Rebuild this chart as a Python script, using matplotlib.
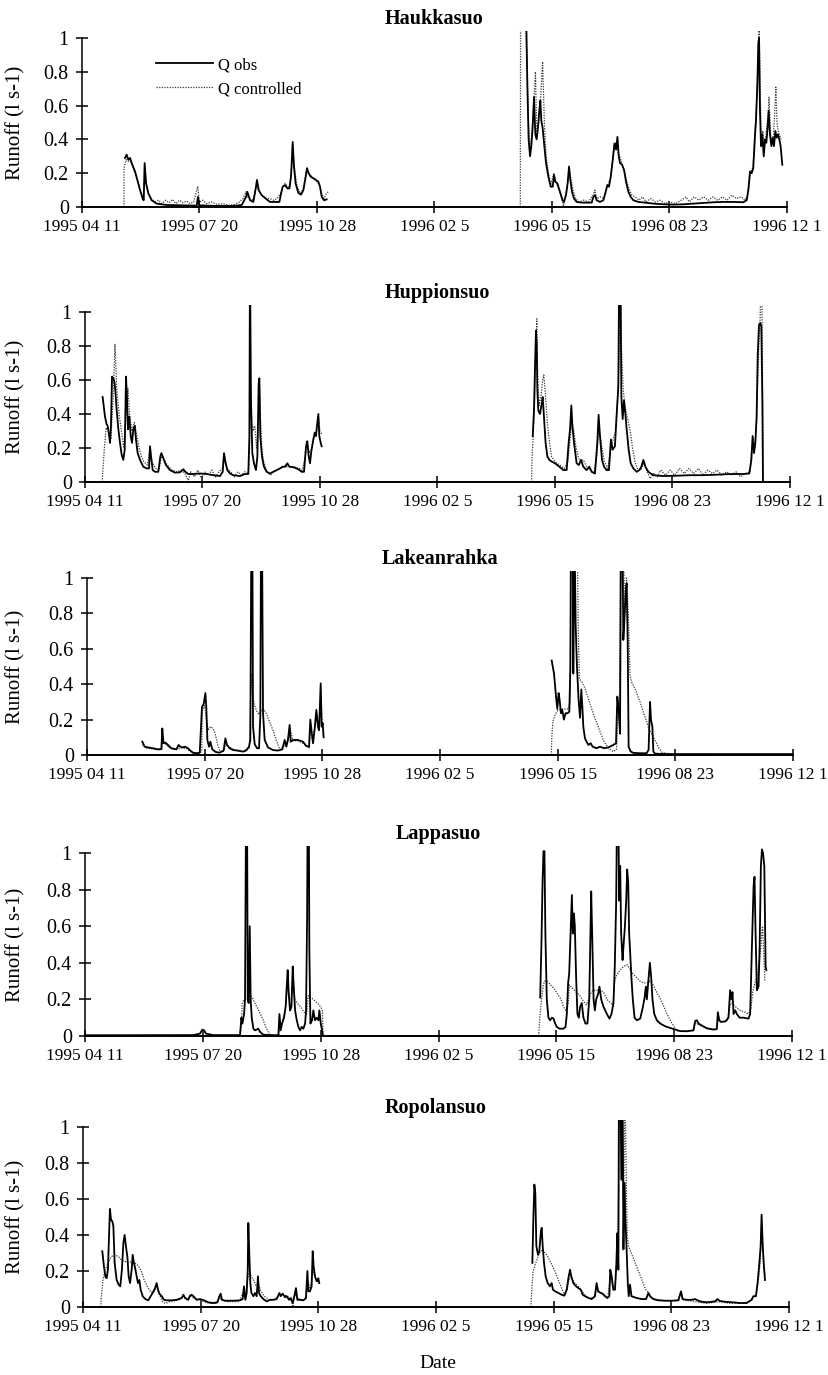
import numpy as np
import pandas as pd
import matplotlib
matplotlib.use("Agg")
import matplotlib.pyplot as plt

plt.rcParams['font.family'] = ['Liberation Serif', 'DejaVu Serif']

START = pd.Timestamp('1995-04-11')
END = pd.Timestamp('1996-12-01')

tick_dates = ['1995-04-11', '1995-07-20', '1995-10-28', '1996-02-05',
              '1996-05-15', '1996-08-23', '1996-12-01']
tick_labels = ['1995 04 11', '1995 07 20', '1995 10 28', '1996 02 5',
               '1996 05 15', '1996 08 23', '1996 12 1']
y_ticks = [0, 0.2, 0.4, 0.6, 0.8, 1]
y_tick_labels = ['0', '0.2', '0.4', '0.6', '0.8', '1']

site_names = ['Haukkasuo', 'Huppionsuo', 'Lakeanrahka', 'Lappasuo', 'Ropolansuo']

# (day since 1995-04-11, runoff l/s)
# ---------------- Haukkasuo ----------------
hauk_obs_1995 = [(36.6, 0.29), (38.0, 0.31), (39.4, 0.28), (40.9, 0.29), (42.3, 0.26), (45.1, 0.21),
    (47.1, 0.16), (49.4, 0.10), (51.6, 0.05), (52.5, 0.04), (53.3, 0.26), (54.5, 0.14), (56.5, 0.08),
    (59.3, 0.04), (63.5, 0.02), (72, 0.012), (83.4, 0.01), (97.6, 0.008), (98.7, 0.06), (99.9, 0.01),
    (114.6, 0.006), (128.8, 0.006), (136, 0.012), (139.6, 0.06), (140.7, 0.09), (143, 0.04),
    (145.8, 0.03), (148.1, 0.12), (148.9, 0.16), (150.4, 0.10), (152.9, 0.07), (157.2, 0.045),
    (160, 0.03), (168, 0.03), (169.4, 0.08), (170.8, 0.12), (172.8, 0.13), (174.8, 0.11), (176.5, 0.11),
    (177.9, 0.18), (179.3, 0.385), (180.4, 0.24), (181.8, 0.14), (184.1, 0.083), (186.4, 0.073),
    (188.4, 0.10), (190.4, 0.18), (191.5, 0.23), (192.9, 0.20), (194.6, 0.18), (196.9, 0.17),
    (199.1, 0.16), (201.1, 0.15), (202.6, 0.12), (204, 0.06), (206, 0.04), (208.2, 0.045)]
hauk_obs_1996 = [(377.6, 1.3), (379.0, 0.73), (380.1, 0.40), (381.3, 0.30), (382.4, 0.36), (383.5, 0.47),
    (384.7, 0.65), (385.8, 0.43), (386.9, 0.40), (388.1, 0.47), (389.2, 0.57), (390.1, 0.63), (390.9, 0.51),
    (392, 0.47), (393.2, 0.38), (394.9, 0.26), (396.9, 0.18), (398.9, 0.12), (400.6, 0.12), (401.7, 0.19),
    (402.8, 0.15), (404.5, 0.14), (406.8, 0.09), (409, 0.04), (410.2, 0.03), (411.9, 0.07), (413.3, 0.14),
    (414.5, 0.24), (415.6, 0.16), (417, 0.09), (418.7, 0.05), (421, 0.03), (425.3, 0.026), (433.8, 0.026),
    (435.2, 0.06), (436.6, 0.07), (438, 0.04), (440.8, 0.03), (443.7, 0.04), (445.7, 0.09), (447.1, 0.13),
    (448.5, 0.12), (450, 0.18), (451.7, 0.28), (453.1, 0.375), (454.5, 0.34), (455.7, 0.415), (456.8, 0.30),
    (457.9, 0.26), (459.6, 0.25), (461.3, 0.22), (463, 0.15), (465, 0.09), (467, 0.06), (469.2, 0.04),
    (473.5, 0.03), (479.1, 0.026), (486.2, 0.02), (494.7, 0.016), (503.3, 0.014), (511.8, 0.016),
    (520.3, 0.02), (528.8, 0.024), (537.3, 0.028), (545.8, 0.03), (554.3, 0.03), (562.8, 0.028),
    (565.7, 0.04), (567.1, 0.10), (568.5, 0.21), (569.9, 0.20), (571.3, 0.23), (572.8, 0.43), (573.6, 0.51),
    (574.8, 0.73), (575.6, 0.97), (576.2, 1.0), (577, 0.57), (577.9, 0.36), (579, 0.43), (580.2, 0.30),
    (581.3, 0.40), (582.4, 0.38), (583.5, 0.47), (584.4, 0.57), (585.5, 0.43), (586.7, 0.36), (587.8, 0.41),
    (588.9, 0.36), (590.1, 0.45), (591.2, 0.41), (592.3, 0.43), (593.5, 0.40), (594.6, 0.36), (596, 0.25)]
hauk_ctl_1995 = [(35.7, 0), (35.8, 0.23), (37.5, 0.28), (39.5, 0.27), (41, 0.28), (43, 0.24), (45.5, 0.2),
    (48, 0.14), (50, 0.09), (52.5, 0.05), (53.5, 0.22), (55, 0.13), (57, 0.07), (59, 0.05), (62, 0.03),
    (65, 0.04), (68, 0.02), (71, 0.04), (74, 0.025), (77, 0.045), (80, 0.02), (83, 0.04), (86, 0.025),
    (89, 0.035), (92, 0.02), (95, 0.03), (98.5, 0.12), (100, 0.03), (103, 0.04), (106, 0.02), (110, 0.03),
    (115, 0.015), (120, 0.02), (125, 0.01), (130, 0.015), (134, 0.03), (137, 0.05), (139.5, 0.09),
    (141, 0.06), (143, 0.05), (146, 0.04), (148.5, 0.14), (150, 0.10), (153, 0.07), (157, 0.05), (160, 0.05),
    (163, 0.04), (166, 0.05), (169, 0.08), (171, 0.12), (173, 0.14), (175, 0.12), (177, 0.12), (178.5, 0.25),
    (179.5, 0.33), (181, 0.22), (183, 0.12), (186, 0.08), (188.5, 0.11), (190.5, 0.2), (192, 0.22),
    (194, 0.19), (197, 0.17), (200, 0.15), (202, 0.13), (204, 0.08), (206, 0.05), (208, 0.08), (209.5, 0.09)]
hauk_ctl_1996 = [(373, 0), (373.3, 1.3), (377, 1.3), (378.5, 0.9), (380, 0.5), (381.5, 0.32), (383, 0.45),
    (384.5, 0.6), (385.9, 0.8), (387, 0.45), (388.5, 0.5), (390, 0.6), (392, 0.86), (393.5, 0.5), (395, 0.3),
    (397, 0.2), (399, 0.13), (401.5, 0.2), (403, 0.16), (405, 0.12), (407, 0.08), (409.4, 0.02), (409.7, 0.0),
    (411, 0.05), (413, 0.12), (414.8, 0.22), (416, 0.17), (418, 0.1), (420, 0.05), (423, 0.03), (427, 0.04),
    (431, 0.03), (435, 0.07), (436.5, 0.1), (438, 0.05), (441, 0.06), (444, 0.05), (446, 0.1), (448, 0.14),
    (450, 0.17), (452, 0.3), (454, 0.38), (456, 0.33), (457.5, 0.3), (460, 0.25), (462, 0.2), (464, 0.14),
    (466, 0.1), (468, 0.07), (471, 0.06), (474, 0.04), (477, 0.06), (480, 0.03), (484, 0.05), (488, 0.03),
    (492, 0.04), (496, 0.02), (500, 0.03), (505, 0.02), (510, 0.04), (514, 0.06), (517, 0.03), (521, 0.06),
    (525, 0.04), (529, 0.06), (533, 0.04), (537, 0.06), (541, 0.04), (545, 0.06), (549, 0.04), (553, 0.07),
    (557, 0.05), (561, 0.06), (564, 0.04), (566, 0.06), (567.5, 0.12), (569, 0.2), (571, 0.24), (572.5, 0.4),
    (574, 0.6), (575.5, 0.9), (576.3, 1.06), (577.2, 0.7), (578, 0.4), (579.5, 0.45), (580.5, 0.35),
    (582, 0.42), (584, 0.55), (584.7, 0.65), (585.8, 0.45), (587, 0.38), (588.5, 0.42), (589.5, 0.55),
    (590.5, 0.71), (591.5, 0.5), (592.5, 0.45), (594, 0.42), (595, 0.4)]

# ---------------- Huppionsuo ----------------
hupp_obs_1995 = [(15.0, 0.50), (17.0, 0.385), (18.4, 0.34), (19.3, 0.33), (20.4, 0.28), (21.3, 0.23),
    (22.1, 0.33), (23, 0.62), (24.1, 0.61), (25, 0.59), (25.8, 0.54), (27, 0.42), (28.4, 0.31), (29.8, 0.23),
    (31.2, 0.16), (32.6, 0.13), (33.8, 0.19), (34.9, 0.62), (35.7, 0.50), (36.6, 0.31), (37.7, 0.385),
    (38.9, 0.27), (40, 0.23), (41.1, 0.31), (42.3, 0.33), (43.4, 0.25), (44.8, 0.17), (46.8, 0.13),
    (49.6, 0.09), (52.5, 0.08), (54.5, 0.08), (55.3, 0.21), (56.2, 0.15), (57.6, 0.07), (59.6, 0.06),
    (62.4, 0.06), (64.1, 0.15), (65, 0.17), (66.7, 0.14), (68.9, 0.10), (72.3, 0.07), (76.6, 0.055),
    (80.9, 0.057), (83.7, 0.075), (85.4, 0.06), (87.9, 0.047), (92.2, 0.047), (97.9, 0.05), (103.5, 0.047),
    (109.2, 0.04), (114.9, 0.035), (117.2, 0.06), (118.3, 0.17), (119.4, 0.12), (121.1, 0.07), (123.4, 0.05),
    (126.2, 0.04), (131.9, 0.035), (136.2, 0.047), (139, 0.047), (139.9, 0.27), (140.4, 1.3), (141.3, 0.46),
    (142.4, 0.17), (143.8, 0.11), (145.5, 0.07), (146.7, 0.15), (147.8, 0.58), (148.4, 0.61), (149.2, 0.27),
    (150.6, 0.15), (152.3, 0.09), (154.6, 0.06), (157.4, 0.05), (160.3, 0.06), (163.1, 0.07), (166, 0.08),
    (168.2, 0.09), (170.2, 0.09), (172.2, 0.11), (173.9, 0.09), (177.3, 0.087), (181.6, 0.075),
    (184.4, 0.06), (186.4, 0.06), (188.1, 0.21), (189.2, 0.24), (190.4, 0.15), (191.5, 0.11), (192.6, 0.18),
    (194.3, 0.25), (195.5, 0.29), (196.6, 0.27), (197.4, 0.33), (198.6, 0.40), (199.4, 0.27), (200.6, 0.23),
    (201.4, 0.21)]
hupp_obs_1996 = [(381, 0.27), (382.1, 0.42), (383, 0.68), (383.8, 0.89), (384.4, 0.82), (385, 0.54),
    (385.8, 0.42), (387.2, 0.40), (388.7, 0.46), (389.5, 0.50), (390.6, 0.385), (392, 0.23), (393.5, 0.15),
    (395.2, 0.13), (397.2, 0.12), (400, 0.11), (403.7, 0.09), (407.1, 0.07), (409.9, 0.07), (411.6, 0.23),
    (412.8, 0.31), (413.9, 0.45), (414.8, 0.33), (416.2, 0.23), (418.4, 0.11), (420.4, 0.10), (422.1, 0.13),
    (424.1, 0.09), (426.9, 0.07), (429.2, 0.09), (431.2, 0.06), (434, 0.05), (436, 0.23), (437.1, 0.395),
    (438.3, 0.27), (440, 0.13), (441.7, 0.09), (443.9, 0.07), (445.9, 0.07), (447.6, 0.25), (449, 0.19),
    (451, 0.21), (452.5, 0.40), (453.9, 0.56), (454.7, 1.3), (455.6, 1.3), (456.5, 0.50), (457.6, 0.37),
    (458.7, 0.48), (459.9, 0.40), (461, 0.31), (462.7, 0.19), (464.4, 0.11), (466.7, 0.08), (469.5, 0.06),
    (471.8, 0.07), (473.5, 0.09), (475.2, 0.13), (476.9, 0.09), (479.4, 0.06), (483.7, 0.04), (492.2, 0.035),
    (503.5, 0.037), (514.9, 0.04), (526.2, 0.04), (537.6, 0.043), (548.9, 0.047), (560.3, 0.047),
    (565.4, 0.05), (567.1, 0.13), (568.2, 0.27), (569.4, 0.17), (570.5, 0.23), (571.6, 0.385), (572.5, 0.74),
    (573.6, 0.925), (574.8, 0.935), (575.6, 0.915), (576.5, 0.46), (577, 0.0)]
hupp_ctl_1995 = [(14.6, 0), (16.5, 0.2), (18, 0.32), (20, 0.3), (22, 0.25), (24, 0.5), (25.5, 0.81),
    (27, 0.55), (29, 0.4), (31, 0.3), (33, 0.2), (35, 0.4), (36.5, 0.55), (38, 0.4), (40, 0.3), (42, 0.35),
    (44, 0.28), (46, 0.2), (48, 0.15), (50, 0.12), (53, 0.1), (55.5, 0.2), (57, 0.12), (60, 0.08), (63, 0.07),
    (65, 0.15), (67, 0.13), (70, 0.1), (74, 0.07), (78, 0.06), (82, 0.07), (85, 0.05), (88, 0.01), (90, 0.06),
    (93, 0.03), (96, 0.07), (99, 0.02), (102, 0.06), (105, 0.04), (108, 0.07), (111, 0.03), (114, 0.06),
    (117, 0.08), (118.5, 0.16), (121, 0.08), (124, 0.06), (127, 0.03), (130, 0.06), (133, 0.04), (136, 0.06),
    (139, 0.05), (140, 0.2), (141, 0.5), (142, 0.35), (143, 0.3), (144.5, 0.33), (146, 0.2), (147.5, 0.3),
    (148.5, 0.55), (149.5, 0.35), (150.5, 0.2), (152, 0.12), (154, 0.08), (156, 0.05), (158, 0.04),
    (160, 0.06), (163, 0.07), (166, 0.08), (170, 0.09), (174, 0.09), (178, 0.09), (182, 0.08), (185, 0.07),
    (187.5, 0.15), (189, 0.23), (191, 0.17), (193, 0.2), (195, 0.27), (197, 0.3), (198.7, 0.38), (200, 0.3),
    (201.5, 0.28)]
hupp_ctl_1996 = [(380, 0), (380.5, 0.15), (381.5, 0.28), (382.5, 0.45), (383.5, 0.75), (384.5, 0.96),
    (385.3, 0.6), (386.5, 0.45), (388, 0.5), (389.5, 0.6), (390.5, 0.63), (392, 0.5), (393.5, 0.35),
    (395, 0.25), (397, 0.15), (400, 0.12), (404, 0.1), (408, 0.08), (411, 0.12), (413, 0.27), (414.5, 0.35),
    (416, 0.3), (418, 0.2), (420, 0.14), (422, 0.12), (424, 0.13), (427, 0.09), (430, 0.07), (433, 0.05),
    (435.5, 0.15), (437, 0.3), (438.5, 0.27), (440, 0.2), (442, 0.12), (445, 0.08), (447.5, 0.2),
    (449.5, 0.25), (451.5, 0.3), (453, 0.45), (454.5, 0.7), (455.5, 1.3), (456.5, 0.8), (458, 0.55),
    (459.5, 0.45), (461, 0.4), (462.5, 0.35), (464, 0.3), (466, 0.2), (468, 0.12), (470, 0.08), (473, 0.07),
    (475.5, 0.11), (478, 0.07), (481, 0.02), (484, 0.05), (487, 0.03), (490, 0.07), (494, 0.04), (498, 0.07),
    (502, 0.04), (506, 0.08), (510, 0.05), (514, 0.08), (518, 0.05), (522, 0.08), (526, 0.04), (530, 0.07),
    (534, 0.05), (538, 0.07), (542, 0.04), (546, 0.06), (550, 0.04), (554, 0.06), (558, 0.03), (562, 0.05),
    (566, 0.06), (567.5, 0.2), (568.5, 0.25), (570, 0.2), (571.5, 0.35), (572.5, 0.6), (573.5, 0.8),
    (574.5, 0.95), (575.8, 1.3), (576.5, 0.8), (577, 0.2), (577.1, 0)]

# ---------------- Lakeanrahka ----------------
lake_obs_1995 = [(47, 0.075), (49, 0.047), (51.8, 0.043), (56.1, 0.038), (60.3, 0.032), (63.2, 0.034),
    (64, 0.15), (64.9, 0.066), (66.6, 0.07), (68.8, 0.057), (71.7, 0.038), (75.9, 0.032), (77.9, 0.057),
    (79.3, 0.047), (81, 0.043), (83.3, 0.047), (85.8, 0.038), (87.8, 0.025), (90.1, 0.013), (93.5, 0.01),
    (95.8, 0.013), (96.9, 0.16), (97.7, 0.27), (99.2, 0.29), (100.6, 0.35), (101.4, 0.27), (102.3, 0.085),
    (103.7, 0.047), (104.8, 0.075), (106.5, 0.032), (109.3, 0.017), (112.7, 0.013), (116.1, 0.025),
    (117.6, 0.094), (119, 0.057), (121.2, 0.038), (124.1, 0.028), (128.3, 0.025), (132.6, 0.019),
    (135.4, 0.028), (137.7, 0.047), (138.8, 0.085), (139.7, 1.3), (140.5, 1.3), (141.1, 0.16), (142.5, 0.062),
    (144.5, 0.038), (146.2, 0.038), (147.3, 0.22), (147.9, 1.3), (148.7, 1.3), (149.6, 0.236), (151, 0.085),
    (153.8, 0.043), (158.1, 0.028), (162.3, 0.025), (166, 0.032), (168, 0.085), (169.4, 0.047), (170.8, 0.085),
    (172.2, 0.17), (173.1, 0.075), (175.1, 0.085), (179.3, 0.085), (183.6, 0.075), (186.4, 0.05),
    (188.7, 0.047), (189.8, 0.2), (190.9, 0.13), (192.1, 0.066), (193.5, 0.15), (194.9, 0.255), (196.3, 0.16),
    (197.2, 0.14), (198.6, 0.405), (199.4, 0.16), (200.3, 0.18), (201.1, 0.1)]
lake_obs_1996 = [(394.9, 0.534), (396.9, 0.46), (398.6, 0.33), (399.7, 0.26), (400.8, 0.35), (401.7, 0.31),
    (402.8, 0.236), (403.9, 0.255), (405.3, 0.2), (406.7, 0.236), (408.5, 0.236), (409.9, 0.245),
    (410.8, 0.5), (411.3, 1.3), (412.7, 1.3), (413.3, 0.46), (414.2, 1.3), (415.3, 0.73), (416.4, 0.5),
    (417.8, 0.31), (419, 0.21), (420.1, 0.37), (421, 0.27), (421.8, 0.16), (423.2, 0.094), (424.6, 0.075),
    (426.1, 0.057), (428.1, 0.066), (429.7, 0.047), (433.1, 0.038), (436, 0.047), (439.4, 0.038),
    (443.1, 0.043), (447.3, 0.057), (449.6, 0.066), (450.7, 0.33), (451.9, 0.255), (453, 0.12), (453.8, 1.3),
    (455, 1.3), (455.8, 0.65), (456.7, 0.76), (457.8, 0.915), (458.6, 0.97), (459.5, 0.65), (460.3, 0.047),
    (462, 0.02), (464.3, 0.012), (469.9, 0.01), (475.6, 0.01), (477.3, 0.03), (478.5, 0.3), (479.3, 0.2),
    (480.5, 0.16), (481.3, 0.02), (482.7, 0.008), (487, 0.006), (498.3, 0.005), (521, 0.005),
    (549.3, 0.005), (577.6, 0.005), (600, 0.005)]
lake_ctl_1995 = [(47, 0.06), (50, 0.04), (55, 0.035), (60, 0.03), (63.5, 0.03), (64.3, 0.12), (65.5, 0.07),
    (70, 0.04), (75, 0.03), (80, 0.04), (85, 0.035), (90, 0.01), (95, 0.01), (97.5, 0.02), (98, 0.25),
    (100, 0.28), (101.5, 0.2), (103, 0.14), (105, 0.16), (107, 0.15), (109, 0.12), (111, 0.06), (113, 0.02),
    (116, 0.02), (118, 0.06), (120, 0.05), (125, 0.03), (130, 0.02), (135, 0.02), (138, 0.04), (139.6, 0.46),
    (140.5, 0.35), (142, 0.29), (144, 0.25), (146, 0.23), (148, 0.25), (150, 0.26), (152, 0.24), (155, 0.19),
    (158, 0.14), (161, 0.08), (164, 0.03), (167, 0.05), (170, 0.07), (172.5, 0.15), (175, 0.08), (180, 0.08),
    (185, 0.06), (189, 0.04), (190, 0.18), (192, 0.07), (195, 0.22), (197, 0.14), (198.8, 0.35), (200, 0.17),
    (201.2, 0.1)]
lake_ctl_1996 = [(394.6, 0), (395, 0.1), (396, 0.19), (398, 0.23), (400, 0.25), (403, 0.26), (406, 0.26),
    (409, 0.26), (410.5, 0.3), (411.5, 1.3), (413, 1.3), (414.5, 1.3), (416.5, 1.3), (417.5, 0.7),
    (418.5, 0.43), (420, 0.42), (423, 0.38), (427, 0.3), (431, 0.22), (435, 0.15), (439, 0.08), (443, 0.04),
    (447, 0.02), (450, 0.03), (451.5, 0.3), (452.5, 0.2), (453.5, 1.3), (455.5, 1.3), (457, 0.8), (458.5, 1.0),
    (460, 0.8), (461.5, 0.45), (463, 0.41), (466, 0.37), (470, 0.3), (474, 0.22), (478, 0.14), (480, 0.12),
    (483, 0.08), (486, 0.04), (488.5, 0.015), (495, 0.006), (600, 0.006)]

# ---------------- Lappasuo ----------------
lapp_obs_1995 = [(0, 0.004), (92, 0.005), (97.6, 0.013), (99.6, 0.035), (101, 0.031), (102.7, 0.013),
    (108.9, 0.005), (131.6, 0.005), (132.7, 0.10), (133.6, 0.068), (135, 0.12), (135.8, 0.2), (136.7, 1.3),
    (137.5, 1.3), (138.1, 0.2), (138.9, 0.18), (139.8, 0.6), (140.6, 0.2), (141.5, 0.10), (142.9, 0.04),
    (144.3, 0.031), (145.7, 0.035), (147.1, 0.04), (148.6, 0.022), (151.4, 0.007), (159.9, 0.004),
    (164.1, 0.004), (165, 0.12), (166.1, 0.031), (167.2, 0.068), (168.9, 0.10), (170.3, 0.16), (171.2, 0.27),
    (172, 0.36), (172.9, 0.23), (174, 0.14), (175.2, 0.16), (176.3, 0.38), (177.1, 0.27), (178.3, 0.14),
    (179.7, 0.086), (181.1, 0.05), (182.5, 0.031), (183.9, 0.05), (185.3, 0.04), (186.8, 0.068),
    (187.6, 0.14), (188.5, 0.65), (189, 1.3), (189.9, 1.3), (190.4, 0.47), (191.3, 0.068), (192.7, 0.086),
    (193.8, 0.14), (195.2, 0.086), (196.7, 0.10), (198.1, 0.086), (198.9, 0.14), (200.1, 0.068),
    (201.2, 0.031), (201.8, 0.005)]
lapp_obs_1996 = [(386.3, 0.21), (387.4, 0.52), (388.3, 0.84), (389.1, 1.01), (389.9, 1.01), (390.7, 0.56),
    (391.9, 0.2), (393.3, 0.10), (394.7, 0.086), (396.2, 0.10), (397.6, 0.095), (399, 0.068), (400.4, 0.05),
    (402.7, 0.04), (406.1, 0.04), (407.8, 0.05), (408.9, 0.12), (410, 0.29), (410.9, 0.34), (412.3, 0.6),
    (413.2, 0.77), (414, 0.56), (414.9, 0.67), (415.7, 0.6), (416.8, 0.32), (417.9, 0.12), (419.1, 0.10),
    (420.2, 0.16), (421.6, 0.18), (423, 0.10), (424.7, 0.068), (426.4, 0.068), (427.9, 0.2), (428.7, 0.47),
    (429.6, 0.79), (430.4, 0.56), (431.6, 0.2), (432.7, 0.14), (433.8, 0.2), (435.5, 0.23), (436.6, 0.27),
    (438.1, 0.2), (440, 0.16), (442.9, 0.12), (445.1, 0.095), (446.8, 0.12), (448.5, 0.18), (449.6, 0.38),
    (450.8, 0.74), (451.6, 1.3), (452.5, 1.3), (453.3, 0.74), (454.2, 0.93), (455, 0.56), (456.2, 0.415),
    (457, 0.49), (458.2, 0.6), (459.3, 0.74), (460.1, 0.91), (461, 0.84), (461.8, 0.56), (462.7, 0.45),
    (463.8, 0.31), (464.9, 0.2), (466.4, 0.10), (468.4, 0.086), (471.2, 0.095), (473.5, 0.16), (474.9, 0.21),
    (476, 0.27), (476.8, 0.2), (478.2, 0.31), (479.4, 0.40), (480.5, 0.32), (481.6, 0.2), (483.1, 0.12),
    (485.3, 0.086), (488.2, 0.068), (492.4, 0.053), (496.6, 0.044), (500.9, 0.035), (505.1, 0.027),
    (510.8, 0.026), (516.4, 0.031), (517.8, 0.082), (519.2, 0.086), (520.7, 0.068), (523.5, 0.057),
    (527.7, 0.042), (533.4, 0.035), (536.2, 0.038), (537.1, 0.13), (538.2, 0.086), (539.6, 0.077),
    (543.3, 0.079), (546.1, 0.10), (547.5, 0.25), (548.6, 0.2), (549.5, 0.24), (550.4, 0.12), (551.8, 0.14),
    (553.2, 0.12), (555.5, 0.10), (558.9, 0.10), (563.1, 0.095), (564.5, 0.12), (565.9, 0.47), (567.4, 0.82),
    (568.2, 0.87), (569.1, 0.56), (570.2, 0.25), (571.6, 0.27), (572.5, 0.47), (573.6, 0.93), (574.5, 1.02),
    (575.4, 1.0), (576.5, 0.93), (577.6, 0.38), (578.2, 0.36)]
lapp_ctl_1995 = [(0, 0.002), (131, 0.002), (132.5, 0.05), (133.5, 0.18), (135, 0.2), (137, 0.2),
    (138.5, 0.21), (140, 0.22), (142, 0.21), (145, 0.17), (148, 0.13), (151, 0.09), (154, 0.04),
    (156.5, 0.01), (160, 0.005), (164.5, 0.005), (165.5, 0.08), (168, 0.09), (170, 0.15), (172, 0.3),
    (173.5, 0.2), (175, 0.2), (176.5, 0.33), (178, 0.2), (180, 0.18), (183, 0.16), (186, 0.13), (188, 0.12),
    (189.5, 0.22), (191, 0.21), (194, 0.2), (197, 0.18), (200, 0.16), (201.5, 0.14), (202, 0.0)]
lapp_ctl_1996 = [(384.9, 0), (386, 0.1), (387.5, 0.2), (389, 0.28), (390, 0.3), (392, 0.3), (395, 0.28),
    (398, 0.26), (401, 0.23), (404, 0.2), (406, 0.16), (408, 0.14), (410, 0.17), (411, 0.28), (414, 0.26),
    (417, 0.24), (420, 0.22), (423, 0.19), (425.5, 0.17), (427.5, 0.2), (429, 0.23), (431, 0.25), (434, 0.25),
    (437, 0.25), (440, 0.24), (443, 0.2), (446, 0.18), (448, 0.17), (449.5, 0.3), (451, 0.33), (454, 0.36),
    (457, 0.38), (460, 0.39), (462, 0.37), (465, 0.34), (468, 0.32), (471, 0.3), (474, 0.29), (477, 0.29),
    (479, 0.3), (482, 0.28), (486, 0.23), (490, 0.18), (494, 0.12), (498, 0.07), (502, 0.03), (505, 0.025),
    (510, 0.026), (516, 0.03), (518, 0.07), (521, 0.06), (525, 0.05), (530, 0.04), (536, 0.035),
    (537.5, 0.11), (539, 0.08), (545, 0.08), (547.5, 0.17), (549, 0.18), (552, 0.16), (556, 0.14),
    (560, 0.13), (563, 0.12), (565, 0.15), (567, 0.25), (569, 0.3), (571, 0.34), (573, 0.45), (575, 0.6),
    (577, 0.3)]

# ---------------- Ropolansuo ----------------
ropo_obs_1995 = [(16.4, 0.31), (17.8, 0.226), (19, 0.17), (20.1, 0.16), (21.2, 0.21), (22.1, 0.39),
    (22.9, 0.545), (23.8, 0.485), (24.9, 0.476), (25.8, 0.45), (26.9, 0.245), (28.6, 0.15), (30.3, 0.124),
    (31.7, 0.115), (33.1, 0.21), (34.3, 0.355), (35.4, 0.4), (36.5, 0.337), (37.7, 0.28), (38.8, 0.17),
    (40, 0.133), (41.4, 0.21), (42.2, 0.29), (43.3, 0.245), (44.5, 0.21), (45.6, 0.17), (46.7, 0.133),
    (47.9, 0.15), (49, 0.096), (50.7, 0.06), (53, 0.044), (55.5, 0.037), (57.5, 0.06), (59.2, 0.078),
    (61.2, 0.105), (62.6, 0.133), (63.7, 0.096), (64.9, 0.074), (66.9, 0.06), (68.8, 0.04), (71.1, 0.037),
    (75.4, 0.037), (79.6, 0.04), (83.9, 0.05), (85.3, 0.068), (86.7, 0.05), (89.5, 0.04), (90.9, 0.063),
    (92.4, 0.068), (93.8, 0.06), (96.6, 0.04), (99.4, 0.044), (102.8, 0.037), (106.5, 0.026), (110.8, 0.022),
    (114.2, 0.026), (115.9, 0.06), (117, 0.074), (118.1, 0.04), (120.7, 0.035), (127.8, 0.035),
    (133.4, 0.037), (135.7, 0.044), (136.8, 0.115), (138, 0.04), (139.1, 0.078), (140, 0.21), (140.5, 0.467),
    (141.4, 0.28), (142.2, 0.133), (143.1, 0.078), (144.8, 0.06), (146.2, 0.078), (147.6, 0.06),
    (148.7, 0.17), (149.6, 0.078), (151, 0.06), (153.3, 0.044), (156.1, 0.031), (159, 0.04), (161.8, 0.04),
    (164.6, 0.044), (166.9, 0.078), (168, 0.06), (169.7, 0.074), (171.7, 0.054), (173.1, 0.06),
    (175.1, 0.04), (176.5, 0.05), (178.2, 0.022), (179.6, 0.06), (181, 0.105), (182.2, 0.04), (184.4, 0.04),
    (187.2, 0.037), (189.5, 0.05), (190.7, 0.2), (191.5, 0.087), (192.9, 0.087), (194.3, 0.115),
    (195.2, 0.31), (196, 0.226), (197.2, 0.17), (198.6, 0.143), (200, 0.16), (200.8, 0.133)]
ropo_obs_1996 = [(381.9, 0.245), (382.7, 0.485), (383.6, 0.68), (384.4, 0.633), (385.3, 0.337),
    (386.7, 0.29), (387.8, 0.31), (389, 0.41), (389.8, 0.44), (390.7, 0.337), (391.8, 0.245), (393.2, 0.17),
    (394.9, 0.133), (396.9, 0.115), (398.3, 0.133), (399.4, 0.096), (401.4, 0.087), (404, 0.078),
    (406.8, 0.068), (409.1, 0.063), (411.1, 0.096), (412.5, 0.16), (413.9, 0.207), (415, 0.17),
    (416.7, 0.133), (419, 0.115), (421, 0.105), (423, 0.096), (424.7, 0.068), (426.6, 0.06), (429.5, 0.05),
    (432.3, 0.044), (435.1, 0.06), (436.5, 0.133), (437.7, 0.087), (439.4, 0.08), (441.6, 0.074),
    (443.6, 0.06), (445.6, 0.05), (447.3, 0.06), (448.1, 0.207), (449.3, 0.17), (450.7, 0.096),
    (452.1, 0.096), (453.3, 0.245), (454.1, 0.41), (455, 0.207), (455.5, 1.3), (456.7, 1.3), (457.5, 0.707),
    (458.4, 1.3), (459.3, 0.32), (460.1, 0.69), (461, 0.485), (461.8, 0.355), (463, 0.133), (463.8, 0.06),
    (464.9, 0.124), (466.1, 0.06), (467.8, 0.056), (470.6, 0.05), (474.9, 0.044), (478.5, 0.044),
    (480.5, 0.078), (481.9, 0.06), (484.7, 0.044), (489, 0.037), (494.6, 0.035), (500.3, 0.035),
    (506, 0.037), (508.2, 0.087), (509.6, 0.044), (513, 0.04), (517.3, 0.04), (520.1, 0.044), (524.4, 0.031),
    (530, 0.026), (537.1, 0.031), (539.1, 0.044), (541.4, 0.033), (547, 0.028), (552.7, 0.026),
    (558.3, 0.022), (564, 0.022), (568.3, 0.04), (569.7, 0.06), (571.9, 0.06), (573.3, 0.133),
    (574.8, 0.245), (575.9, 0.337), (576.7, 0.513), (577.6, 0.355), (578.5, 0.245), (579.6, 0.15)]
ropo_ctl_1995 = [(15.2, 0), (15.5, 0.05), (17, 0.15), (18.5, 0.2), (21, 0.24), (24, 0.28), (27, 0.29),
    (30, 0.28), (33, 0.26), (37, 0.25), (41, 0.25), (44, 0.245), (47, 0.23), (49.5, 0.2), (52, 0.15),
    (55, 0.11), (58, 0.08), (61, 0.09), (63, 0.12), (65, 0.07), (67.5, 0.03), (70, 0.02), (74, 0.03),
    (78, 0.035), (82, 0.04), (85.5, 0.06), (88, 0.04), (91, 0.06), (94, 0.05), (98, 0.04), (103, 0.03),
    (108, 0.02), (113, 0.02), (116, 0.05), (118, 0.04), (122, 0.03), (128, 0.03), (133, 0.03), (136.5, 0.09),
    (138, 0.05), (140, 0.16), (141.5, 0.2), (143, 0.17), (145, 0.15), (147, 0.12), (149, 0.13), (151, 0.09),
    (154, 0.06), (158, 0.04), (162, 0.04), (166, 0.06), (170, 0.07), (174, 0.06), (177.5, 0.03),
    (178.3, 0.0), (179, 0.03), (180.5, 0.08), (182, 0.05), (186, 0.04), (189, 0.04), (191, 0.15),
    (193, 0.1), (195.5, 0.2), (198, 0.15), (201, 0.13)]
ropo_ctl_1996 = [(380.7, 0), (381, 0.05), (382.5, 0.2), (385, 0.25), (388, 0.3), (390.5, 0.32), (393, 0.3),
    (395, 0.28), (398, 0.24), (401, 0.2), (404, 0.15), (407, 0.1), (409, 0.07), (411.5, 0.1), (413, 0.15),
    (415, 0.17), (417, 0.14), (420, 0.12), (423, 0.1), (426, 0.07), (430, 0.05), (434, 0.05), (436.7, 0.12),
    (438, 0.09), (442, 0.07), (446, 0.05), (448.3, 0.18), (450, 0.12), (452, 0.1), (453.5, 0.22),
    (454.5, 0.4), (455.5, 0.8), (456.5, 1.3), (458.5, 1.3), (459.5, 0.5), (460.5, 1.3), (461.5, 0.8),
    (462.5, 0.4), (463.5, 0.34), (466, 0.3), (469, 0.25), (472, 0.2), (475, 0.15), (478, 0.1), (480.5, 0.08),
    (483, 0.05), (488, 0.04), (495, 0.035), (505, 0.035), (508.2, 0.08), (510, 0.04), (520, 0.03),
    (530, 0.02), (540, 0.03), (550, 0.02), (560, 0.02), (566, 0.03), (569, 0.05), (572, 0.07), (574, 0.15),
    (575.5, 0.25), (576.7, 0.45), (577.6, 0.33), (579, 0.2), (579.6, 0.17)]

obs_series = [
    [hauk_obs_1995, hauk_obs_1996],
    [hupp_obs_1995, hupp_obs_1996],
    [lake_obs_1995, lake_obs_1996],
    [lapp_obs_1995, lapp_obs_1996],
    [ropo_obs_1995, ropo_obs_1996],
]
ctl_series = [
    [hauk_ctl_1995, hauk_ctl_1996],
    [hupp_ctl_1995, hupp_ctl_1996],
    [lake_ctl_1995, lake_ctl_1996],
    [lapp_ctl_1995, lapp_ctl_1996],
    [ropo_ctl_1995, ropo_ctl_1996],
]

# ---------------- layout (pixels in 829 x 1375 figure) ----------------
W, H = 829, 1375
# (x_left, x_right, y_zero, y_one)
panel_px = [(82, 787, 207, 38), (85, 790, 482, 312), (87, 793, 755, 578),
            (85, 792, 1036, 853), (83, 789, 1307, 1127)]
YTOP = 1.04

fig = plt.figure(figsize=(W / 100, H / 100), dpi=100)
fig.patch.set_facecolor('white')


def to_dates(pairs):
    d = np.array([p[0] for p in pairs], dtype=float)
    q = np.array([p[1] for p in pairs], dtype=float)
    return START + pd.to_timedelta(d, unit='D'), q


for i, (name, (xl, xr, y0, y1)) in enumerate(zip(site_names, panel_px)):
    unit = y0 - y1
    top_px = y1 - (YTOP - 1) * unit
    ax = fig.add_axes([xl / W, 1 - y0 / H, (xr - xl) / W, (y0 - top_px) / H])
    for k, seg in enumerate(ctl_series[i]):
        x, q = to_dates(seg)
        ax.plot(x, q, color='#3a3a3a', lw=0.9, ls=(0, (1, 1.1)),
                label='Q controlled' if k == 0 else None, zorder=2)
    for k, seg in enumerate(obs_series[i]):
        x, q = to_dates(seg)
        ax.plot(x, q, color='black', lw=1.3, ls='-',
                label='Q obs' if k == 0 else None, zorder=3)

    ax.set_xlim(START, END)
    ax.set_ylim(0, YTOP)
    ax.set_xticks(pd.to_datetime(tick_dates))
    ax.set_xticklabels(tick_labels, fontsize=12.5)
    ax.set_yticks(y_ticks)
    ax.set_yticklabels(y_tick_labels, fontsize=14.5)
    for s in ['top', 'right']:
        ax.spines[s].set_visible(False)
    ax.spines['left'].set_bounds(0, 1)
    ax.spines['left'].set_linewidth(1.1)
    ax.spines['bottom'].set_linewidth(1.4)
    ax.tick_params(axis='both', direction='inout', length=9, width=1.1, colors='black')
    ax.tick_params(axis='x', pad=4)
    ax.tick_params(axis='y', pad=5)
    ax.set_ylabel('Runoff (l s-1)', fontsize=15)
    ax.yaxis.set_label_coords((25 - xl) / (xr - xl), 0.5 / YTOP)
    ax.set_title(name, fontsize=14.5, fontweight='bold', pad=5)
    ax.patch.set_alpha(0)

    if i == 0:
        handles, labels = ax.get_legend_handles_labels()
        order = [labels.index('Q obs'), labels.index('Q controlled')]
        ax.legend([handles[k] for k in order], [labels[k] for k in order],
                  loc='upper left', bbox_to_anchor=((156 - xl) / (xr - xl), (y0 - 57) / (y0 - top_px)),
                  frameon=False, fontsize=12, handlelength=3.4, handletextpad=0.3,
                  labelspacing=0.5, borderpad=0, borderaxespad=0)

fig.text(438 / W, 1 - 1363 / H, 'Date', ha='center', va='center', fontsize=14)

fig.savefig('out.png', dpi=100)
